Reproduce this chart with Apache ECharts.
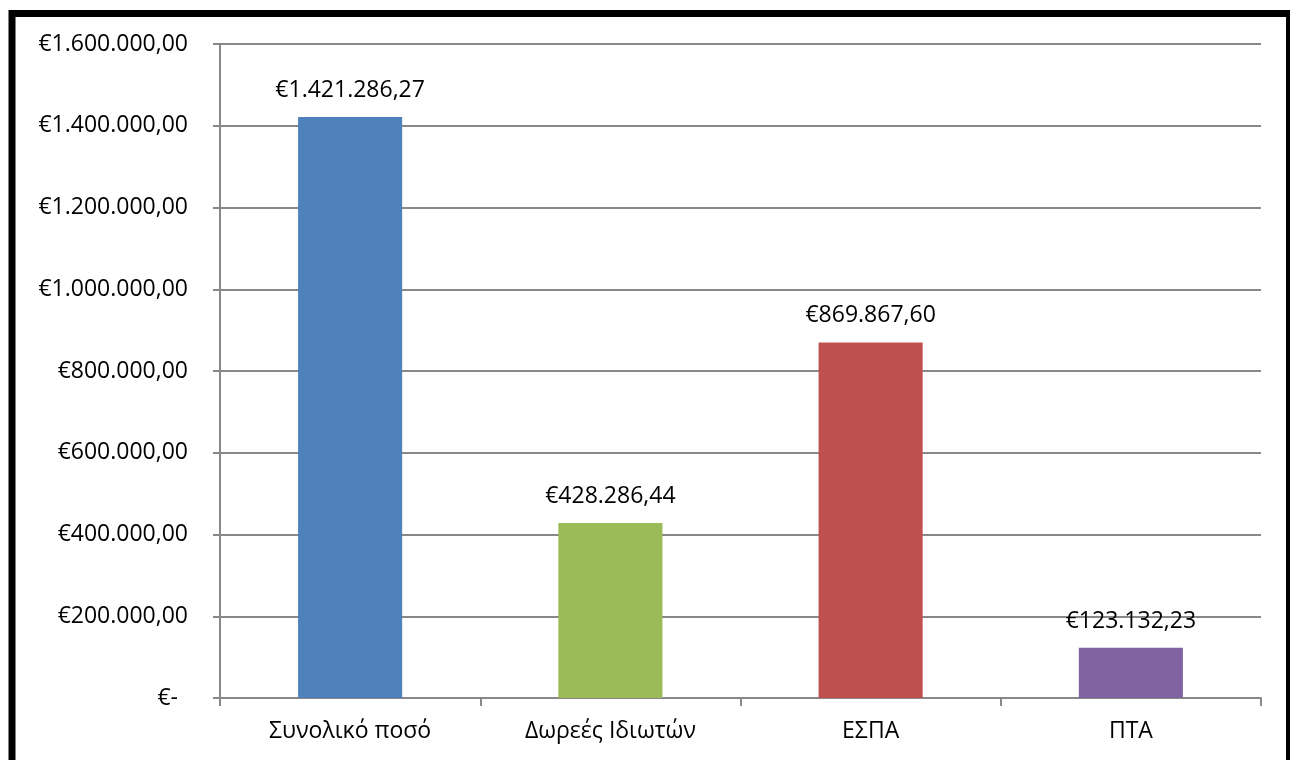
<!DOCTYPE html>
<html>
<head>
<meta charset="utf-8">
<script src="https://cdn.jsdelivr.net/npm/echarts@6/dist/echarts.min.js"></script>
<style>
  html, body { margin: 0; padding: 0; background: #fff; }
  #chart { width: 1290px; height: 760px; }
</style>
</head>
<body>
<div id="chart"></div>
<script>
const categories = ['Συνολικό ποσό', 'Δωρεές Ιδιωτών', 'ΕΣΠΑ', 'ΠΤΑ'];
const amounts = [1421286.27, 428286.44, 869867.60, 123132.23];
const barColors = ['#4F81BD', '#9BBB59', '#C0504D', '#8064A2'];

// ευρώ με τελεία για χιλιάδες και κόμμα για δεκαδικά
const euro = (v) => {
  const parts = v.toFixed(2).split('.');
  const int = parts[0].replace(/\B(?=(\d{3})+(?!\d))/g, '.');
  return '€' + int + ',' + parts[1];
};

const fontFamily = '"Open Sans"';
const fontSize = 23;
const chart = echarts.init(document.getElementById('chart'));

chart.setOption({
  animation: false,
  backgroundColor: '#fff',
  textStyle: { fontFamily: fontFamily },
  graphic: [{
    type: 'rect',
    shape: { x: 12, y: 13.5, width: 1277.5, height: 800 },
    style: { fill: 'none', stroke: '#000', lineWidth: 7 },
    silent: true
  }],
  grid: { left: 220, right: 29, top: 44, bottom: 62 },
  xAxis: {
    type: 'category',
    data: categories,
    axisLine: { lineStyle: { color: '#888', width: 2 } },
    axisTick: { show: true, length: 8, lineStyle: { color: '#888', width: 2 } },
    axisLabel: { color: '#000', fontSize: fontSize, margin: 22, fontFamily: fontFamily }
  },
  yAxis: {
    type: 'value',
    min: 0,
    max: 1600000,
    interval: 200000,
    axisLine: { show: true, lineStyle: { color: '#888', width: 2 } },
    axisTick: { show: true, length: 7, lineStyle: { color: '#888', width: 2 } },
    splitLine: { lineStyle: { color: '#888', width: 2 } },
    axisLabel: {
      color: '#000',
      fontSize: fontSize,
      margin: 32,
      fontFamily: fontFamily,
      formatter: (v) => v === 0 ? '{z|€-}' : euro(v),
      rich: { z: { fontSize: fontSize, color: '#000', padding: [0, 10, 0, 0], fontFamily: fontFamily } }
    }
  },
  series: [{
    type: 'bar',
    barWidth: '40%',
    data: amounts.map((v, i) => ({ value: v, itemStyle: { color: barColors[i] } })),
    label: {
      show: true,
      position: 'top',
      distance: 15,
      color: '#000',
      fontSize: fontSize,
      fontFamily: fontFamily,
      formatter: (p) => euro(p.value)
    }
  }]
});
</script>
</body>
</html>
